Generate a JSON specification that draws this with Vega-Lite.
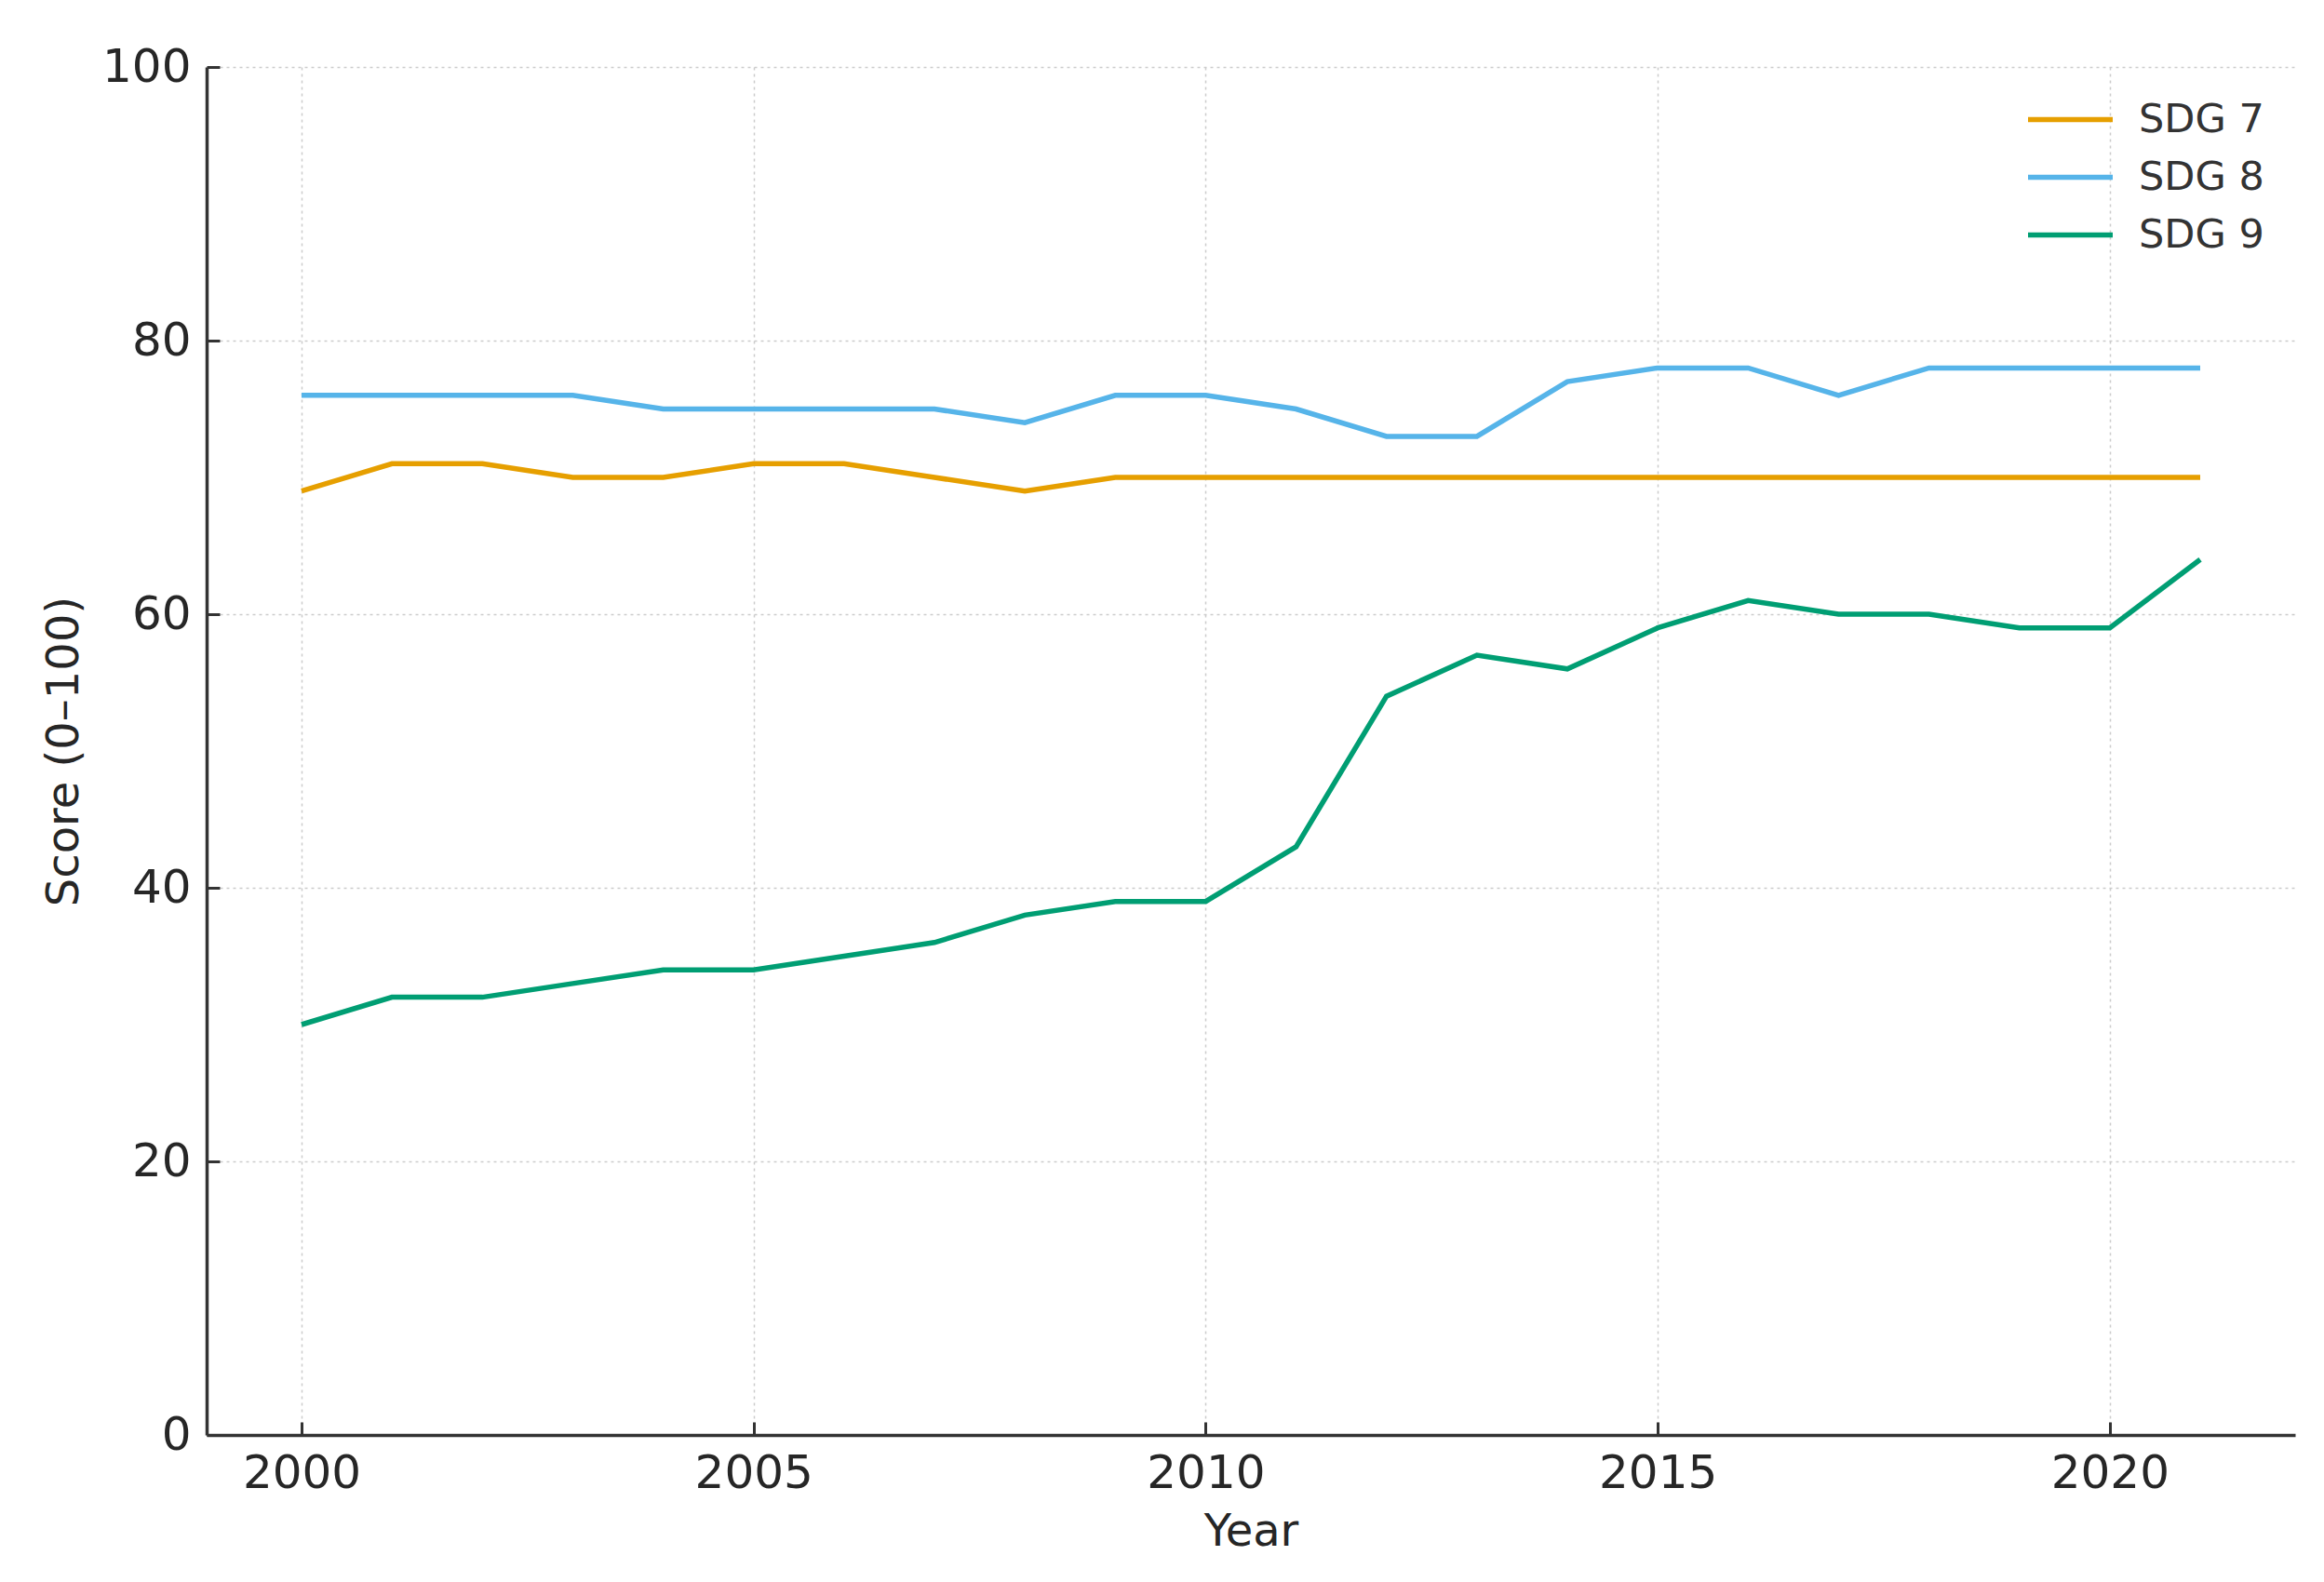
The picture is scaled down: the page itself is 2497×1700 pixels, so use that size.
{
  "$schema": "https://vega.github.io/schema/vega-lite/v6.json",
  "width": 2244,
  "height": 1470,
  "autosize": {"type": "none"},
  "padding": {"left": 222, "top": 72, "right": 31, "bottom": 158},
  "background": "white",
  "config": {
    "font": "DejaVu Sans",
    "view": {"stroke": null},
    "axis": {
      "domainColor": "#333333",
      "domainWidth": 3.5,
      "tickColor": "#333333",
      "tickWidth": 3,
      "tickSize": -14,
      "labelFont": "DejaVu Sans",
      "labelFontSize": 50,
      "labelColor": "#262626",
      "titleFont": "DejaVu Sans",
      "titleFontSize": 48,
      "titleFontWeight": "normal",
      "titleColor": "#262626",
      "gridColor": "#cccccc",
      "gridDash": [3, 4],
      "gridWidth": 1.5
    }
  },
  "data": {
    "values": [
      {"Year": 2000, "Series": "SDG 7", "Score": 69},
      {"Year": 2001, "Series": "SDG 7", "Score": 71},
      {"Year": 2002, "Series": "SDG 7", "Score": 71},
      {"Year": 2003, "Series": "SDG 7", "Score": 70},
      {"Year": 2004, "Series": "SDG 7", "Score": 70},
      {"Year": 2005, "Series": "SDG 7", "Score": 71},
      {"Year": 2006, "Series": "SDG 7", "Score": 71},
      {"Year": 2007, "Series": "SDG 7", "Score": 70},
      {"Year": 2008, "Series": "SDG 7", "Score": 69},
      {"Year": 2009, "Series": "SDG 7", "Score": 70},
      {"Year": 2010, "Series": "SDG 7", "Score": 70},
      {"Year": 2011, "Series": "SDG 7", "Score": 70},
      {"Year": 2012, "Series": "SDG 7", "Score": 70},
      {"Year": 2013, "Series": "SDG 7", "Score": 70},
      {"Year": 2014, "Series": "SDG 7", "Score": 70},
      {"Year": 2015, "Series": "SDG 7", "Score": 70},
      {"Year": 2016, "Series": "SDG 7", "Score": 70},
      {"Year": 2017, "Series": "SDG 7", "Score": 70},
      {"Year": 2018, "Series": "SDG 7", "Score": 70},
      {"Year": 2019, "Series": "SDG 7", "Score": 70},
      {"Year": 2020, "Series": "SDG 7", "Score": 70},
      {"Year": 2021, "Series": "SDG 7", "Score": 70},
      {"Year": 2000, "Series": "SDG 8", "Score": 76},
      {"Year": 2001, "Series": "SDG 8", "Score": 76},
      {"Year": 2002, "Series": "SDG 8", "Score": 76},
      {"Year": 2003, "Series": "SDG 8", "Score": 76},
      {"Year": 2004, "Series": "SDG 8", "Score": 75},
      {"Year": 2005, "Series": "SDG 8", "Score": 75},
      {"Year": 2006, "Series": "SDG 8", "Score": 75},
      {"Year": 2007, "Series": "SDG 8", "Score": 75},
      {"Year": 2008, "Series": "SDG 8", "Score": 74},
      {"Year": 2009, "Series": "SDG 8", "Score": 76},
      {"Year": 2010, "Series": "SDG 8", "Score": 76},
      {"Year": 2011, "Series": "SDG 8", "Score": 75},
      {"Year": 2012, "Series": "SDG 8", "Score": 73},
      {"Year": 2013, "Series": "SDG 8", "Score": 73},
      {"Year": 2014, "Series": "SDG 8", "Score": 77},
      {"Year": 2015, "Series": "SDG 8", "Score": 78},
      {"Year": 2016, "Series": "SDG 8", "Score": 78},
      {"Year": 2017, "Series": "SDG 8", "Score": 76},
      {"Year": 2018, "Series": "SDG 8", "Score": 78},
      {"Year": 2019, "Series": "SDG 8", "Score": 78},
      {"Year": 2020, "Series": "SDG 8", "Score": 78},
      {"Year": 2021, "Series": "SDG 8", "Score": 78},
      {"Year": 2000, "Series": "SDG 9", "Score": 30},
      {"Year": 2001, "Series": "SDG 9", "Score": 32},
      {"Year": 2002, "Series": "SDG 9", "Score": 32},
      {"Year": 2003, "Series": "SDG 9", "Score": 33},
      {"Year": 2004, "Series": "SDG 9", "Score": 34},
      {"Year": 2005, "Series": "SDG 9", "Score": 34},
      {"Year": 2006, "Series": "SDG 9", "Score": 35},
      {"Year": 2007, "Series": "SDG 9", "Score": 36},
      {"Year": 2008, "Series": "SDG 9", "Score": 38},
      {"Year": 2009, "Series": "SDG 9", "Score": 39},
      {"Year": 2010, "Series": "SDG 9", "Score": 39},
      {"Year": 2011, "Series": "SDG 9", "Score": 43},
      {"Year": 2012, "Series": "SDG 9", "Score": 54},
      {"Year": 2013, "Series": "SDG 9", "Score": 57},
      {"Year": 2014, "Series": "SDG 9", "Score": 56},
      {"Year": 2015, "Series": "SDG 9", "Score": 59},
      {"Year": 2016, "Series": "SDG 9", "Score": 61},
      {"Year": 2017, "Series": "SDG 9", "Score": 60},
      {"Year": 2018, "Series": "SDG 9", "Score": 60},
      {"Year": 2019, "Series": "SDG 9", "Score": 59},
      {"Year": 2020, "Series": "SDG 9", "Score": 59},
      {"Year": 2021, "Series": "SDG 9", "Score": 64}
    ]
  },
  "mark": {"type": "line", "strokeWidth": 5.5},
  "encoding": {
    "x": {
      "field": "Year",
      "type": "quantitative",
      "scale": {"domain": [1998.95, 2022.05], "nice": false, "zero": false},
      "axis": {
        "title": "Year",
        "values": [2000, 2005, 2010, 2015, 2020],
        "format": "d",
        "labelPadding": 30,
        "titlePadding": 14
      }
    },
    "y": {
      "field": "Score",
      "type": "quantitative",
      "scale": {"domain": [0, 100], "nice": false},
      "axis": {
        "title": "Score (0–100)",
        "values": [0, 20, 40, 60, 80, 100],
        "labelPadding": 31,
        "titlePadding": 16
      }
    },
    "color": {
      "field": "Series",
      "type": "nominal",
      "scale": {"domain": ["SDG 7", "SDG 8", "SDG 9"], "range": ["#E69F00", "#56B4E9", "#009E73"]},
      "legend": {
        "title": null,
        "orient": "none",
        "legendX": 1969,
        "legendY": 23,
        "padding": 0,
        "symbolType": "M-1.5,0H1.5",
        "symbolSize": 3680,
        "symbolStrokeWidth": 5.5,
        "labelFontSize": 43,
        "labelFont": "DejaVu Sans",
        "labelColor": "#333333",
        "labelOffset": 40,
        "rowPadding": 6
      }
    }
  }
}
